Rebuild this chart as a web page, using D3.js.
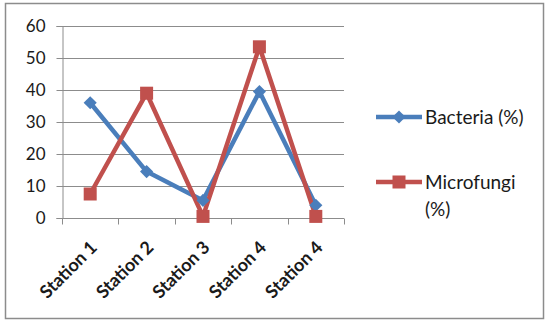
<!DOCTYPE html>
<html><head><meta charset="utf-8">
<script src="https://cdn.jsdelivr.net/npm/d3@7"></script>
<style>body{margin:0;background:#fff}svg{display:block}text{font-family:Lato,"Open Sans",sans-serif;fill:#1a1a1a}</style>
</head><body><svg id="c" width="548" height="322"></svg>
<script>
const categories = ["Station 1","Station 2","Station 3","Station 4","Station 4"];
const bacteria = [36, 14.5, 5.5, 39.5, 4];
const microfungi = [7.5, 39, 0.5, 53.5, 0.5];
const yTicks = [0,10,20,30,40,50,60];
const seriesNames = ["Bacteria (%)", "Microfungi (%)"];

const svg = d3.select("#c");
svg.append("rect").attr("x",5.5).attr("y",3.5).attr("width",538).attr("height",315)
  .attr("fill","#fff").attr("stroke","#8c8c8c").attr("stroke-width",1.5);

const x0 = 62, x1 = 344, yTop = 26, yBot = 218;
const xBand = d3.scaleBand().domain(d3.range(categories.length)).range([x0,x1]).padding(0);
const y = d3.scaleLinear().domain([0,60]).range([yBot,yTop]);
const cx = i => xBand(i) + xBand.bandwidth()/2;

// gridlines
svg.append("g").selectAll("line").data(yTicks).join("line")
  .attr("x1",x0).attr("x2",x1).attr("y1",d=>Math.round(y(d))+0.5).attr("y2",d=>Math.round(y(d))+0.5)
  .attr("stroke","#8c8c8c").attr("stroke-width",1);

// y axis
const yAxis = svg.append("g").attr("transform",`translate(${x0+0.5},0)`)
  .call(d3.axisLeft(y).tickValues(yTicks).tickSize(6).tickPadding(11).tickFormat(d3.format("d")));
yAxis.select(".domain").attr("stroke","#8c8c8c");
yAxis.selectAll(".tick line").attr("stroke","#8c8c8c");
yAxis.selectAll("text").attr("font-size",17).style("font-family","Lato,sans-serif").attr("fill","#1a1a1a");

// x axis ticks
const xAxisG = svg.append("g").attr("transform",`translate(0,${Math.round(yBot)+0.5})`);
xAxisG.append("line").attr("x1",x0).attr("x2",x1).attr("stroke","#8c8c8c");
const edges = d3.range(categories.length+1).map(i => i<categories.length ? xBand(i) : x1);
xAxisG.selectAll("line.t").data(edges).join("line").attr("class","t")
  .attr("x1",d=>Math.round(d)+0.5).attr("x2",d=>Math.round(d)+0.5).attr("y1",0).attr("y2",6)
  .attr("stroke","#8c8c8c");
xAxisG.selectAll("text").data(categories).join("text")
  .attr("transform",(d,i)=>`translate(${cx(i)+8},${30}) rotate(-45)`)
  .attr("text-anchor","end").attr("font-size",18).attr("font-weight","bold").text(d=>d);

const line = d3.line().x((d,i)=>cx(i)).y(d=>y(d));
const blue = "#4a7ebb", red = "#c0504d";
svg.append("path").datum(bacteria).attr("d",line).attr("fill","none").attr("stroke",blue).attr("stroke-width",4.5).attr("stroke-linejoin","round");
svg.append("path").datum(microfungi).attr("d",line).attr("fill","none").attr("stroke",red).attr("stroke-width",4.5).attr("stroke-linejoin","round");

const diamond = d3.symbol().type(d3.symbolDiamond2).size(110);
svg.append("g").selectAll("path").data(bacteria).join("path")
  .attr("d",diamond).attr("transform",(d,i)=>`translate(${cx(i)},${y(d)})`).attr("fill",blue);
const sq = 13;
svg.append("g").selectAll("rect").data(microfungi).join("rect")
  .attr("x",(d,i)=>cx(i)-sq/2).attr("y",d=>y(d)-sq/2).attr("width",sq).attr("height",sq).attr("fill",red);

// legend
const lg = svg.append("g");
const legY = [117, 182];
const cols = [blue, red];
lg.selectAll("line").data(legY).join("line")
  .attr("x1",376).attr("x2",422).attr("y1",d=>d).attr("y2",d=>d)
  .attr("stroke",(d,i)=>cols[i]).attr("stroke-width",4.5);
lg.append("path").attr("d",diamond).attr("transform",`translate(399,${legY[0]})`).attr("fill",blue);
lg.append("rect").attr("x",399-sq/2).attr("y",legY[1]-sq/2).attr("width",sq).attr("height",sq).attr("fill",red);
lg.append("text").attr("x",425).attr("y",legY[0]+7).attr("font-size",19).text(seriesNames[0]);
const t2 = lg.append("text").attr("x",425).attr("y",legY[1]+7).attr("font-size",19);
t2.append("tspan").attr("x",425).text(seriesNames[1].split(" ")[0]);
t2.append("tspan").attr("x",425).attr("dy",27).text(seriesNames[1].split(" ")[1]);
</script></body></html>
